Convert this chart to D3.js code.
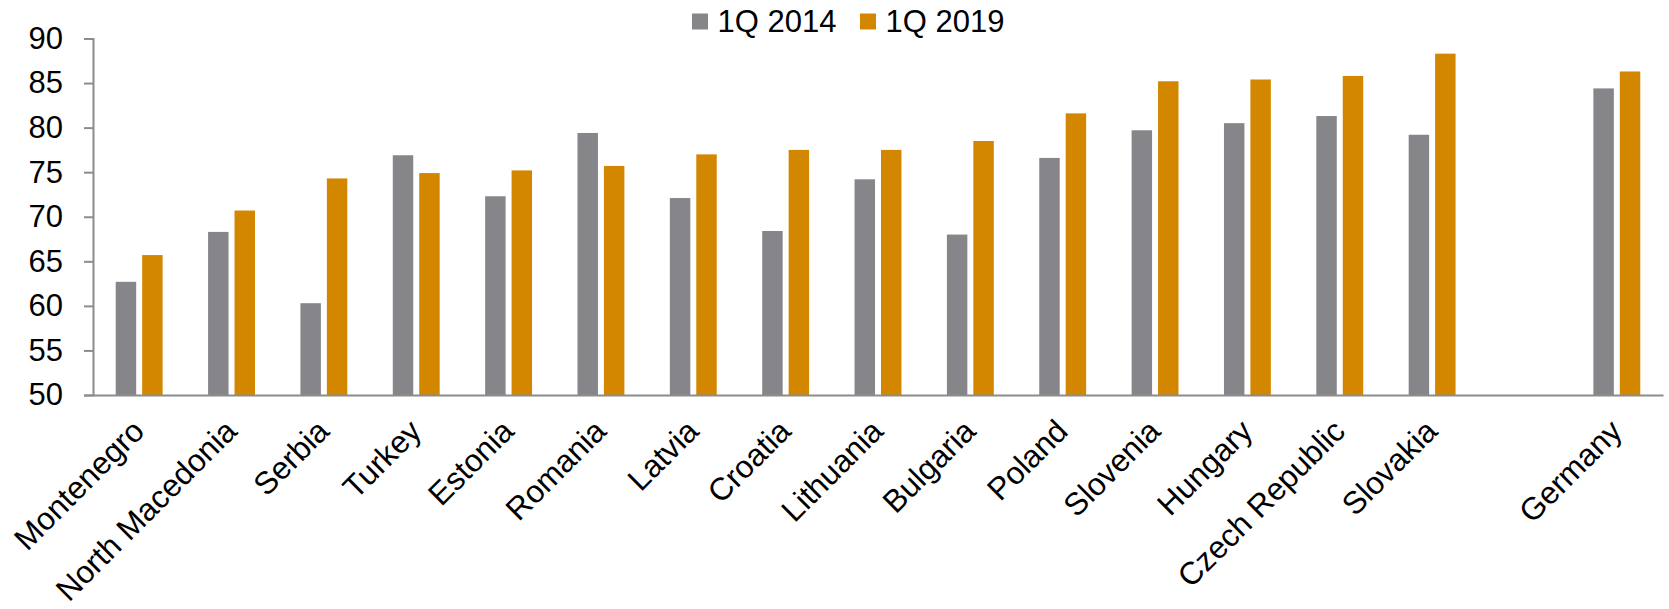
<!DOCTYPE html>
<html><head><meta charset="utf-8">
<script src="https://cdn.jsdelivr.net/npm/d3@7"></script>
<style>
html,body{margin:0;padding:0;background:#fff;}
svg{display:block;font-family:"Liberation Sans",Arial,sans-serif;}
</style></head>
<body>
<svg id="chart" width="1669" height="609"></svg>
<script>
const categories = ["Montenegro","North Macedonia","Serbia","Turkey","Estonia","Romania","Latvia","Croatia","Lithuania","Bulgaria","Poland","Slovenia","Hungary","Czech Republic","Slovakia","","Germany"];
const series = ["1Q 2014","1Q 2019"];
const values2014 = [62.7,68.3,60.3,76.9,72.3,79.4,72.1,68.4,74.2,68.0,76.6,79.7,80.5,81.3,79.2,null,84.4];
const values2019 = [65.7,70.7,74.3,74.9,75.2,75.7,77.0,77.5,77.5,78.5,81.6,85.2,85.4,85.8,88.3,null,86.3];
const yTicks = [50,55,60,65,70,75,80,85,90];
const colors = ["#868589","#D38700"];

const svg = d3.select("#chart");
const mLeft = 93, mRight = 1663, mTop = 38.5, mBottom = 395;

const x0 = d3.scaleBand().domain(d3.range(categories.length)).range([mLeft, mRight]).paddingInner(0).paddingOuter(0);
const x1 = d3.scaleBand().domain(series).range([0, x0.bandwidth()]).paddingInner(0.226).paddingOuter(0.86);
const y = d3.scaleLinear().domain([50, 90]).range([mBottom, mTop]);

const data = categories.map((c, i) => ({i, c, vals: [values2014[i], values2019[i]]}));

const g = svg.append("g");
data.forEach(d => {
  d.vals.forEach((v, k) => {
    if (v == null) return;
    g.append("rect")
      .attr("x", x0(d.i) + x1(series[k]))
      .attr("width", x1.bandwidth())
      .attr("y", y(v))
      .attr("height", y(50) - y(v))
      .attr("fill", colors[k]);
  });
});

// y axis
const yAxis = d3.axisLeft(y).tickValues(yTicks).tickSize(9).tickPadding(21);
const ya = svg.append("g").attr("transform", `translate(${mLeft},0)`).call(yAxis);
ya.select(".domain").attr("stroke", "#8c8c8c").attr("stroke-width", 2);
ya.selectAll(".tick line").attr("stroke", "#8c8c8c").attr("stroke-width", 2);
ya.selectAll(".tick text").attr("font-size", 31).attr("fill", "#000")
  .attr("font-family", '"Liberation Sans",Arial,sans-serif');

// x axis line
const xAxis = d3.axisBottom(x0).tickSize(0).tickFormat("");
const xa = svg.append("g").attr("transform", `translate(0,${mBottom})`).call(xAxis);
xa.select(".domain").attr("stroke", "#8c8c8c").attr("stroke-width", 2);

// x labels
svg.append("g").selectAll("text").data(data.filter(d => d.c !== "")).join("text")
  .attr("transform", d => `translate(${x0(d.i) + x0.bandwidth()/2 + 7},${mBottom + 38}) rotate(-45)`)
  .attr("text-anchor", "end")
  .attr("font-size", 31.5)
  .attr("fill", "#000")
  .text(d => d.c);

// legend
const legendX = [692, 860];
series.forEach((s, k) => {
  svg.append("rect").attr("x", legendX[k]).attr("y", 13.5).attr("width", 16).attr("height", 16).attr("fill", colors[k]);
  svg.append("text").attr("x", legendX[k] + 25.5).attr("y", 32.3).attr("font-size", 31).attr("fill", "#000").text(s);
});
</script>
</body></html>
